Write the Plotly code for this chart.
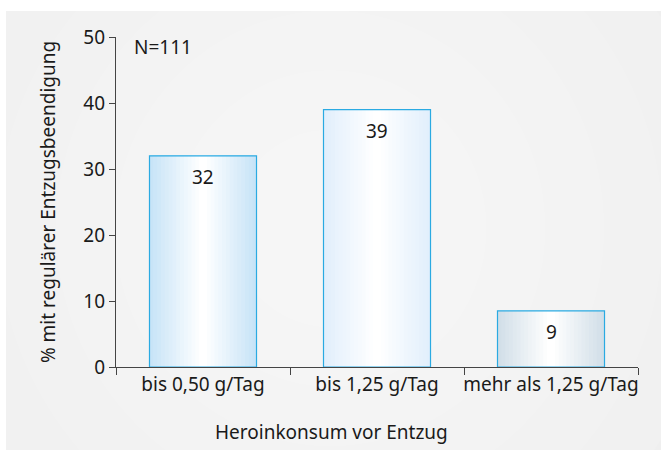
import plotly.graph_objects as go

categories = ["bis 0,50 g/Tag", "bis 1,25 g/Tag", "mehr als 1,25 g/Tag"]
values = [32, 39, 8.5]
value_labels = ["32", "39", "9"]
y_ticks = [0, 10, 20, 30, 40, 50]
n_label = "N=111"
x_title = "Heroinkonsum vor Entzug"
y_title = "% mit regulärer Entzugsbeendigung"

edge_colors = [(200, 228, 247), (226, 239, 252), (210, 223, 232)]
center_color = (255, 255, 255)
outline = "#2aaae2"
FONT = "Noto Sans"
FS = 19

fig = go.Figure()

N = 14
W = 0.615
for k in range(N):
    t = k / (N - 1)
    cols = []
    for ec in edge_colors:
        c = tuple(int(round(ec[i] + (center_color[i] - ec[i]) * t)) for i in range(3))
        cols.append("rgb(%d,%d,%d)" % c)
    w = W * (1 - k / N)
    fig.add_trace(go.Bar(
        x=categories, y=values, width=w,
        marker=dict(color=cols, line=dict(width=0)),
        hoverinfo="skip", showlegend=False,
    ))
fig.add_trace(go.Bar(
    x=categories, y=values, width=W,
    marker=dict(color="rgba(0,0,0,0)", line=dict(color=outline, width=1.2)),
    hoverinfo="skip", showlegend=False,
))

for c, v, lab in zip(categories, values, value_labels):
    fig.add_annotation(x=c, y=v, text=lab, showarrow=False, yanchor="top", yshift=-6,
                       font=dict(size=FS, color="#1a1a1a", family=FONT))

fig.add_annotation(x=0.03, y=0.97, xref="paper", yref="paper", text=n_label, showarrow=False,
                   xanchor="left", yanchor="middle", font=dict(size=FS, color="#1a1a1a", family=FONT))

# x axis title centred on the whole figure
fig.add_annotation(x=0.412, y=-0.197, xref="paper", yref="paper", text=x_title, showarrow=False,
                   xanchor="center", yanchor="middle", font=dict(size=FS, color="#1a1a1a", family=FONT))

# background panel
fig.add_shape(type="rect", xref="paper", yref="paper", x0=-0.2107, x1=1.06, y0=-0.2515, y1=1.0788,
              fillcolor="#efefef", line=dict(width=0), layer="below")
for i, r in enumerate([1.0, 0.85, 0.7, 0.55, 0.4, 0.25]):
    fig.add_shape(type="circle", xref="paper", yref="paper",
                  x0=0.41 - r * 0.75, x1=0.41 + r * 0.75, y0=0.42 - r * 1.2, y1=0.42 + r * 1.2,
                  fillcolor="rgba(255,255,255,0.12)", line=dict(width=0), layer="below")

fig.update_layout(
    width=661, height=456,
    margin=dict(l=116, r=23, t=37, b=89),
    paper_bgcolor="white", plot_bgcolor="rgba(0,0,0,0)",
    barmode="overlay",
    font=dict(family=FONT, size=FS, color="#1a1a1a"),
    xaxis=dict(type="category", range=[-0.5, 2.5], showline=True, linecolor="#444", linewidth=1.2,
               ticks="outside", tickson="boundaries", ticklen=7, tickcolor="#444",
               showgrid=False, zeroline=False, tickfont=dict(size=FS), tickangle=0, automargin=False),
    yaxis=dict(range=[0, 50], tickvals=y_ticks, showline=True, linecolor="#444", linewidth=1.2,
               ticks="outside", ticklen=6, tickcolor="#444", showgrid=False, zeroline=False,
               tickfont=dict(size=FS), automargin=False,
               title=dict(text=y_title, font=dict(size=FS), standoff=22)),
)

fig.write_html("out.html", config={"displayModeBar": False},
               post_script="document.body.style.margin='0px';")
